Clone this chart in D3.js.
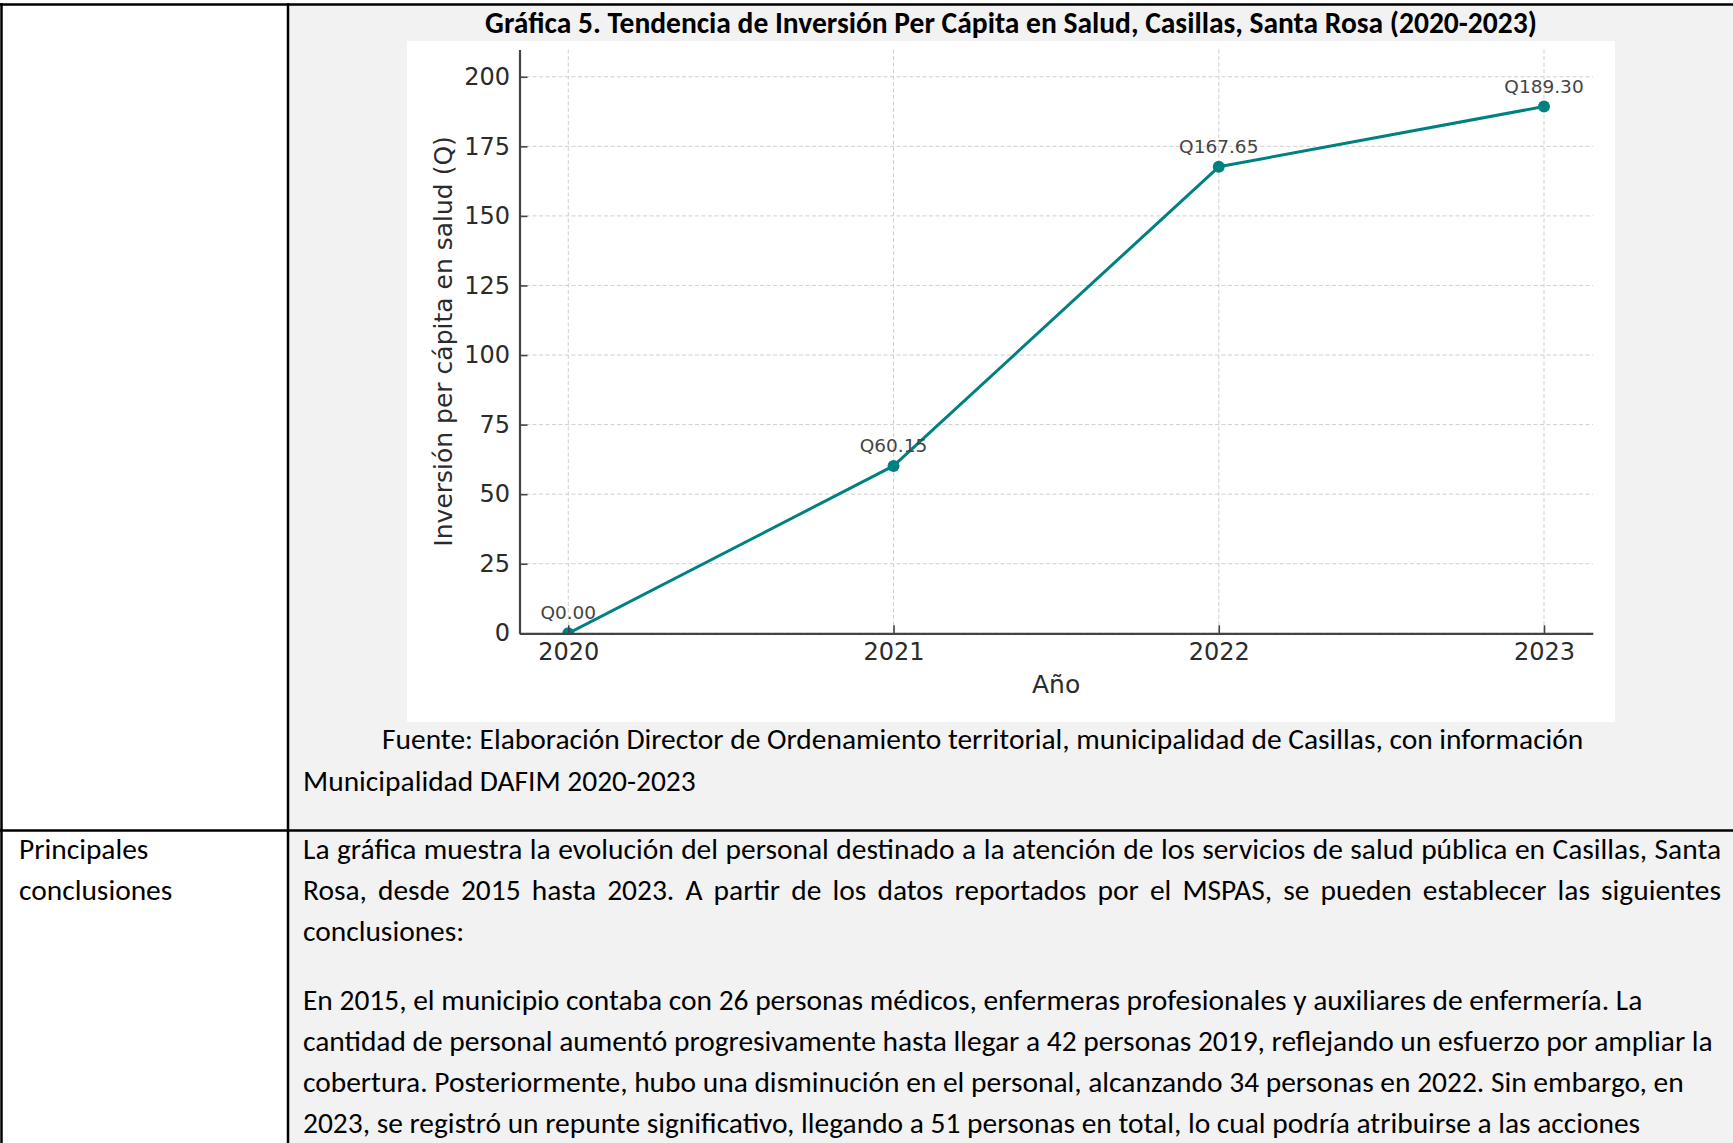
<!DOCTYPE html>
<html><head><meta charset="utf-8">
<script src="https://cdn.jsdelivr.net/npm/d3@7"></script>
<style>html,body{margin:0;padding:0;background:#fff;overflow:hidden}</style>
</head><body>
<svg id="c" width="1733" height="1143" xmlns="http://www.w3.org/2000/svg"></svg>
<script>
// ---------------- data ----------------
const years = [2020, 2021, 2022, 2023];
const perCapita = [0.00, 60.15, 167.65, 189.30];
const valueLabels = ["Q0.00", "Q60.15", "Q167.65", "Q189.30"];
const yTicks = [0, 25, 50, 75, 100, 125, 150, 175, 200];
const xTicks = [2020, 2021, 2022, 2023];
const chartTitle = "Gráfica 5. Tendencia de Inversión Per Cápita en Salud, Casillas, Santa Rosa (2020-2023)";
const yAxisTitle = "Inversión per cápita en salud (Q)";
const xAxisTitle = "Año";
const sourceLines = [
  "Fuente: Elaboración Director de Ordenamiento territorial, municipalidad de Casillas, con información",
  "Municipalidad DAFIM 2020-2023"
];
const rowHeader = ["Principales", "conclusiones"];
const bodyLines = [
  "La gráfica muestra la evolución del personal destinado a la atención de los servicios de salud pública en Casillas, Santa",
  "Rosa, desde 2015 hasta 2023. A partir de los datos reportados por el MSPAS, se pueden establecer las siguientes",
  "conclusiones:",
  "",
  "En 2015, el municipio contaba con 26 personas médicos, enfermeras profesionales y auxiliares de enfermería. La",
  "cantidad de personal aumentó progresivamente hasta llegar a 42 personas 2019, reflejando un esfuerzo por ampliar la",
  "cobertura. Posteriormente, hubo una disminución en el personal, alcanzando 34 personas en 2022. Sin embargo, en",
  "2023, se registró un repunte significativo, llegando a 51 personas en total, lo cual podría atribuirse a las acciones"
];
const justifiedLines = [true, true, false, false, false, false, false, false];

// ---------------- layout ----------------
const svg = d3.select("#c");
const W = 1733, H = 1143;
const colX = 288, rowY = 830.5;
const docFont = "Calibri, Carlito, Lato, 'Liberation Sans', sans-serif";
const mplFont = "'DejaVu Sans', sans-serif";

svg.append("rect").attr("width", W).attr("height", H).attr("fill", "#ffffff");
// shaded right cells
svg.append("rect").attr("x", colX).attr("y", 4).attr("width", W - colX).attr("height", H - 4).attr("fill", "#f2f2f2");

// chart picture (white box)
const box = {x0: 407, y0: 41, x1: 1615, y1: 722};
svg.append("rect").attr("x", box.x0).attr("y", box.y0).attr("width", box.x1 - box.x0).attr("height", box.y1 - box.y0).attr("fill", "#ffffff");

// table borders
const borders = svg.append("g").attr("stroke", "#000").attr("stroke-width", 2.5);
borders.append("line").attr("x1", 0).attr("x2", W).attr("y1", 4.5).attr("y2", 4.5);
borders.append("line").attr("x1", 1.5).attr("x2", 1.5).attr("y1", 3).attr("y2", H);
borders.append("line").attr("x1", colX).attr("x2", colX).attr("y1", 3).attr("y2", H);
borders.append("line").attr("x1", 0).attr("x2", W).attr("y1", rowY).attr("y2", rowY);

// ---------------- chart ----------------
const plot = {left: 519.5, right: 1592.8, top: 49.5, bottom: 633.3};
const x = d3.scaleLinear().domain([2019.85, 2023.15]).range([plot.left, plot.right]);
const y = d3.scaleLinear().domain([0, 209.8]).range([plot.bottom, plot.top]);

const defs = svg.append("defs");
defs.append("clipPath").attr("id", "pclip").append("rect")
  .attr("x", plot.left).attr("y", plot.top).attr("width", plot.right - plot.left).attr("height", plot.bottom - plot.top);

const grid = svg.append("g").attr("stroke", "#cfcfcf").attr("stroke-width", 1).attr("stroke-dasharray", "4,2.5");
grid.selectAll("line.h").data(yTicks).join("line").attr("class", "h")
  .attr("x1", plot.left).attr("x2", plot.right).attr("y1", d => y(d)).attr("y2", d => y(d));
grid.selectAll("line.v").data(xTicks).join("line").attr("class", "v")
  .attr("x1", d => x(d)).attr("x2", d => x(d)).attr("y1", plot.top).attr("y2", plot.bottom);

const pts = years.map((yr, i) => ({yr, v: perCapita[i], lab: valueLabels[i]}));
const series = svg.append("g").attr("clip-path", "url(#pclip)");
series.append("path").datum(pts)
  .attr("d", d3.line().x(d => x(d.yr)).y(d => y(d.v)))
  .attr("fill", "none").attr("stroke", "#008080").attr("stroke-width", 3).attr("stroke-linejoin", "round");
series.selectAll("circle").data(pts).join("circle")
  .attr("cx", d => x(d.yr)).attr("cy", d => y(d.v)).attr("r", 6).attr("fill", "#008080");

// axes
const yAxis = svg.append("g").attr("transform", `translate(${plot.left},0)`)
  .call(d3.axisLeft(y).tickValues(yTicks).tickSizeInner(-8).tickSizeOuter(0).tickPadding(9.5));
const xAxis = svg.append("g").attr("transform", `translate(0,${plot.bottom})`)
  .call(d3.axisBottom(x).tickValues(xTicks).tickFormat(d3.format("d")).tickSizeInner(-8).tickSizeOuter(0).tickPadding(9.5));
[yAxis, xAxis].forEach(a => {
  a.select(".domain").attr("stroke", "#444").attr("stroke-width", 2.2);
  a.selectAll(".tick line").attr("stroke", "#444").attr("stroke-width", 1.6);
  a.selectAll(".tick text").attr("font-family", mplFont).attr("font-size", 24).attr("fill", "#2b2b2b");
  a.attr("font-family", null).attr("font-size", null);
});

// axis titles
svg.append("text").attr("transform", `translate(452,${(plot.top + plot.bottom) / 2}) rotate(-90)`)
  .attr("text-anchor", "middle").attr("font-family", mplFont).attr("font-size", 25).attr("fill", "#2b2b2b")
  .text(yAxisTitle);
svg.append("text").attr("x", (plot.left + plot.right) / 2).attr("y", 693)
  .attr("text-anchor", "middle").attr("font-family", mplFont).attr("font-size", 25).attr("fill", "#2b2b2b")
  .text(xAxisTitle);

// value labels
svg.append("g").selectAll("text").data(pts).join("text")
  .attr("x", d => x(d.yr)).attr("y", d => y(d.v) - 14)
  .attr("text-anchor", "middle").attr("font-family", mplFont).attr("font-size", 18.5).attr("fill", "#444")
  .text(d => d.lab);

// ---------------- document text ----------------
// chart title, fitted to its width in the reference
const titleEl = svg.append("text").attr("x", 1011).attr("y", 33).attr("text-anchor", "middle")
  .attr("font-family", docFont).attr("font-weight", "bold").attr("font-size", 24).attr("fill", "#000")
  .text(chartTitle);
{
  const w = titleEl.node().getComputedTextLength();
  titleEl.attr("font-size", 24 * 1052 / w);
}

// body font size: fit a long unjustified line to its width
const probe = svg.append("text").attr("font-family", docFont).attr("font-size", 24).text(bodyLines[5]);
const bodySize = 24 * 1410 / probe.node().getComputedTextLength();
probe.remove();

function docText(str, xx, yy) {
  return svg.append("text").attr("x", xx).attr("y", yy)
    .attr("font-family", docFont).attr("font-size", bodySize).attr("fill", "#000").text(str);
}
docText(sourceLines[0], 382, 749);
docText(sourceLines[1], 303, 791);
docText(rowHeader[0], 19, 859);
docText(rowHeader[1], 19, 900);

const bodyY = [859, 900, 941, 982, 1010, 1051, 1092, 1133];
bodyLines.forEach((ln, i) => {
  if (!ln) return;
  const t = docText(ln, 303, bodyY[i]);
  if (justifiedLines[i]) {
    const nat = t.node().getComputedTextLength();
    const spaces = (ln.match(/ /g) || []).length;
    t.attr("word-spacing", (1721 - 303 - nat) / spaces);
  }
});
</script>
</body></html>
